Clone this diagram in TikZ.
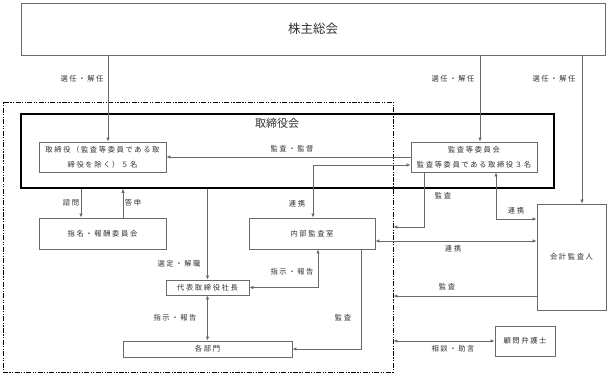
\documentclass[tikz,border=0pt]{standalone}
\usepackage{fontspec}
\setmainfont{Noto Sans CJK JP}
\newfontfamily\jpl[LetterSpace=22]{Noto Sans CJK JP}
\usetikzlibrary{arrows.meta}
\definecolor{txt}{HTML}{303030}
\definecolor{lnc}{HTML}{6A6A6A}
\tikzset{
  box/.style={draw=lnc, line width=0.8pt, inner sep=0pt, align=center, text=txt,
    font=\jpl\fontsize{7.3}{15}\selectfont},
  lbl/.style={inner sep=0pt, text=txt, font=\jpl\fontsize{7.3}{9}\selectfont},
  ln/.style={draw=lnc, line width=0.7pt},
  arr/.style={ln, -{Latex[length=4pt,width=3.4pt]}},
  arrb/.style={ln, {Latex[length=4pt,width=3.4pt]}-{Latex[length=4pt,width=3.4pt]}},
  grpbox/.style={draw=black, line width=0.9pt, inner sep=0pt,
    dash pattern=on 5pt off 1.4pt on 1.2pt off 1.4pt on 1.2pt off 1.4pt}
}
\begin{document}
\begin{tikzpicture}[x=1pt,y=-1pt]
\useasboundingbox (0,0) rectangle (609,375);
% group (dash-dot) box
\node[grpbox, minimum width=390pt, minimum height=270pt] (grp) at (198,237) {};
% boxes
\node[box, minimum width=584pt, minimum height=52pt, font=\fontsize{12.5}{14}\selectfont] (top) at (313,29) {株主総会};
\node[draw=black, line width=1.5pt, minimum width=533pt, minimum height=74pt, inner sep=0pt] (board) at (287.5,151) {};
\node[inner sep=0pt, text=txt, font=\fontsize{11}{13}\selectfont] (boardlbl) at (277,123) {取締役会};
\node[box, minimum width=127pt, minimum height=30pt] (dir) at (102.5,157) {取締役（監査等委員である取\\締役を除く）５名};
\node[box, minimum width=126pt, minimum height=30pt] (audc) at (474,157) {監査等委員会\\監査等委員である取締役３名};
\node[box, minimum width=127pt, minimum height=31pt] (nom) at (102.5,233.5) {指名・報酬委員会};
\node[box, minimum width=126pt, minimum height=31pt] (ia) at (312,233.5) {内部監査室};
\node[box, minimum width=83pt, minimum height=15pt] (pres) at (207.5,287.5) {代表取締役社長};
\node[box, minimum width=169pt, minimum height=16pt] (dept) at (207.5,349) {各部門};
\node[box, minimum width=69pt, minimum height=106pt] (acc) at (571.5,257) {会計監査人};
\node[box, minimum width=60pt, minimum height=30pt] (law) at (525,341) {顧問弁護士};
% helper coordinates
\coordinate (xa) at (108,0);
\coordinate (xb) at (480,0);
\coordinate (xc) at (582,0);
\coordinate (xd) at (81,0);
\coordinate (xe) at (123,0);
\coordinate (xg) at (313,0);
\coordinate (xh) at (318,0);
\coordinate (xi) at (361,0);
\coordinate (xj) at (424,0);
\coordinate (xk) at (496,0);
\coordinate (y2) at (0,165);
\coordinate (y3) at (0,227);
\coordinate (y4) at (0,219);
\coordinate (y5) at (0,241);
\coordinate (y8) at (0,296);
% connectors
\draw[arr] (top.south -| xa) -- (dir.north -| xa);
\draw[arr] (top.south -| xb) -- (audc.north -| xb);
\draw[arr] (top.south -| xc) -- (acc.north -| xc);
\draw[arr] (audc.west) -- (dir.east);
\draw[arrb] (ia.north -| xg) |- (audc.west |- y2);
\draw[arr] (board.south -| xd) -- (nom.north -| xd);
\draw[arr] (nom.north -| xe) -- (board.south -| xe);
\draw[arr] (board.south -| pres.north) -- (pres.north);
\draw[arrb] (pres.south) -- (dept.north);
\draw[arrb] (ia.south -| xh) |- (pres.east);
\draw[arr] (ia.south -| xi) |- (dept.east);
\draw[arr] (audc.south -| xj) |- (grp.east |- y3);
\draw[arrb] (audc.south -| xk) |- (acc.west |- y4);
\draw[arrb] (ia.east |- y5) -- (acc.west |- y5);
\draw[arr] (acc.west |- y8) -- (grp.east |- y8);
\draw[arrb] (grp.east |- law.west) -- (law.west);
% labels
\node[lbl] (l1) at (82,79) {選任・解任};
\node[lbl] (l2) at (453,79) {選任・解任};
\node[lbl] (l3) at (554,79) {選任・解任};
\node[lbl] (l4) at (292,149) {監査・監督};
\node[lbl] (l5) at (297,204) {連携};
\node[lbl] (l6) at (71,203) {諮問};
\node[lbl] (l7) at (133,203) {答申};
\node[lbl] (l8) at (443,196) {監査};
\node[lbl] (l9) at (516,211) {連携};
\node[lbl] (l10) at (453,249) {連携};
\node[lbl] (l11) at (179,264) {選定・解職};
\node[lbl] (l12) at (292,272) {指示・報告};
\node[lbl] (l13) at (175,318) {指示・報告};
\node[lbl] (l14) at (343,318) {監査};
\node[lbl] (l15) at (447,287) {監査};
\node[lbl] (l16) at (453,349) {相談・助言};
\end{tikzpicture}
\end{document}
